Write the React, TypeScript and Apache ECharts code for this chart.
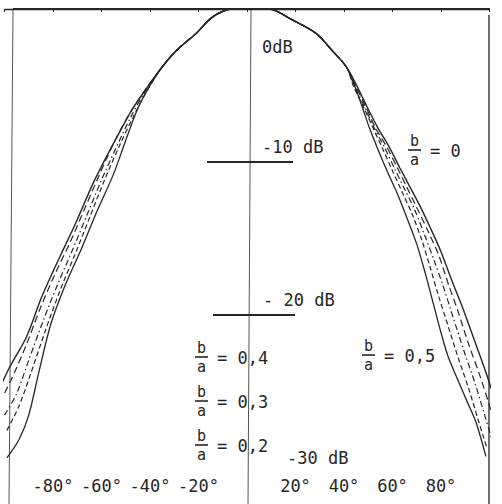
import React, { useEffect, useRef } from "react";
import * as echarts from "echarts";

// Angle (degrees) / relative level (dB) readings
const angleTicks = [-80, -60, -40, -20, 20, 40, 60, 80];
const tickLabels = ["-80°", "-60°", "-40°", "-20°", "20°", "40°", "60°", "80°"];

const mainLobe = [
  [-35, -3.8], [-29, -2.7], [-21, -1.6], [-14, -0.5], [-6, 0], [0, 0], [9, 0],
  [18.5, -0.7], [28.5, -1.6], [35, -2.7], [41, -3.8],
];

const ratio0Left = [
  [-103, -25.2], [-98, -23.5], [-91, -21.5], [-85, -19], [-80, -17.2], [-75, -15.5],
  [-70, -13.8], [-64, -11.6], [-59, -10], [-53, -8.2], [-47, -6.5], [-41, -5.1],
];
const ratio0Right = [
  [45.5, -5.1], [49.5, -6.4], [54, -7.8], [58.5, -9], [63, -10.4], [67, -11.6], [71, -12.8],
  [75.5, -14.3], [80, -15.9], [84.5, -17.8], [89, -19.6], [94, -21.8], [98.5, -23.8],
  [102, -25.5], [105, -27.1],
];

const ratio02Left = [
  [-102, -25.8], [-97, -24.2], [-91, -22], [-85, -19.5], [-79, -17.3], [-73, -15.3],
  [-67, -13.1], [-61, -10.9], [-55, -8.8], [-49, -7], [-42, -5.3],
];
const ratio02Right = [
  [45, -5.1], [49, -6.4], [53, -7.8], [57.5, -9], [62, -10.4], [66, -11.7], [70, -13],
  [74.5, -14.5], [79, -16.1], [83, -18], [87, -19.8], [91.5, -22], [96, -24], [100, -26],
  [103, -27.8],
];

const ratio03Left = [
  [-100, -26.6], [-95, -25.2], [-90, -23], [-84, -20.4], [-78, -18], [-72, -15.8],
  [-66, -13.5], [-60, -11.2], [-54, -9.1], [-48, -7.1], [-42, -5.4],
];
const ratio03Right = [
  [44.5, -5.1], [48.5, -6.4], [52.5, -7.8], [56.5, -9], [61, -10.5], [65, -11.8], [69, -13.1],
  [73, -14.7], [77, -16.4], [81, -18.2], [85, -20.2], [89.5, -22.4], [94, -24.5], [98, -26.6],
  [101, -28.2],
];

const ratio04Left = [
  [-99, -27.6], [-94, -26], [-89, -23.8], [-83, -21], [-77, -18.4], [-71, -16.1],
  [-65, -13.7], [-59, -11.3], [-53, -9.1], [-47, -7.1], [-41, -5.3],
];
const ratio04Right = [
  [44, -5.1], [48, -6.4], [52, -7.8], [55.5, -9], [60, -10.6], [64, -12], [68, -13.4],
  [72, -15.1], [75.5, -16.9], [79, -18.8], [83, -20.8], [87, -22.8], [91.5, -24.9],
  [95.5, -27], [99, -28.8],
];

const ratio05Left = [
  [-99, -29.4], [-94, -28.2], [-90, -26.6], [-86, -23.9], [-81, -20.7], [-75, -18.1],
  [-68, -15.6], [-62, -13.3], [-55, -10.8], [-50, -8.6], [-45, -6.5], [-40, -5.0],
];
const ratio05Right = [
  [44.5, -5.1], [47.5, -6.4], [50.5, -7.8], [54, -9.2], [58, -10.7], [62, -12.1], [66, -13.7],
  [70, -15.4], [73.5, -17.3], [77, -19.4], [80, -21.2], [83, -22.8], [87.5, -24.5],
  [91, -25.8], [94.5, -27.1], [98.5, -29.3],
];

// Short level bars: [dB, from angle, to angle]
const levelBars = [
  [-10, -16.5, 19],
  [-20, -14, 19.8],
];

const INK = "#262626";
const FONT = '"DejaVu Sans Mono", monospace';

function txt(text: string, x: number, y: number, align = "left", size = 17) {
  return {
    type: "text",
    x,
    y,
    silent: true,
    style: {
      text,
      fill: INK,
      fontSize: size,
      lineHeight: size,
      fontFamily: FONT,
      align,
      verticalAlign: "middle",
    },
  };
}

function fraction(x: number, y: number, value: string) {
  return {
    type: "group",
    x,
    y,
    children: [
      txt("b", 6.5, -9, "center", 15),
      { type: "line", shape: { x1: 0, y1: 0, x2: 13, y2: 0 }, style: { stroke: INK, lineWidth: 1.6 } },
      txt("a", 6.5, 10, "center", 15),
      txt("= " + value, 22, 1),
    ],
  };
}

export default function App() {
  const ref = useRef<HTMLDivElement>(null);
  useEffect(() => {
    if (!ref.current) return;
    document.body.style.margin = "0";
    const chart = echarts.init(ref.current, null, { renderer: "svg" });
    const lineSeries = (name: string, data: number[][], type: any, width = 1.2) => ({
      name,
      type: "line",
      data,
      showSymbol: false,
      smooth: 0.3,
      clip: false,
      lineStyle: { color: INK, width, type },
      z: 3,
    });
    chart.setOption({
      animation: false,
      backgroundColor: "#ffffff",
      grid: { left: 4.5, right: 12.5, top: 9, bottom: 37 },
      xAxis: {
        type: "value",
        min: -100,
        max: 100,
        interval: 20,
        splitLine: { show: false },
        axisLine: { show: true, lineStyle: { color: INK, width: 1.4 } },
        axisTick: { show: true, length: 3, lineStyle: { color: INK } },
        axisLabel: {
          color: INK,
          fontSize: 17,
          fontFamily: FONT,
          margin: 10,
          formatter: (v: number) => {
            const i = angleTicks.indexOf(v);
            return i >= 0 ? tickLabels[i] : "";
          },
        },
      },
      yAxis: {
        type: "value",
        min: -30,
        max: 0,
        show: false,
      },
      series: [
        lineSeries("b/a = 0,2", [...ratio02Left, ...mainLobe, ...ratio02Right], [7, 4]),
        lineSeries("b/a = 0,3", [...ratio03Left, ...mainLobe, ...ratio03Right], [6, 3, 1.5, 3]),
        lineSeries("b/a = 0,4", [...ratio04Left, ...mainLobe, ...ratio04Right], [5, 3]),
        lineSeries("b/a = 0,5", [...ratio05Left, ...mainLobe, ...ratio05Right], "solid", 1.3),
        {
          ...lineSeries("b/a = 0", [...ratio0Left, ...mainLobe, ...ratio0Right], "solid", 1.4),
          markLine: {
            silent: true,
            symbol: "none",
            label: { show: false },
            lineStyle: { color: INK, width: 2, type: "solid" },
            data: levelBars.map(([db, a, b]) => [{ coord: [a, db] }, { coord: [b, db] }]),
          },
        },
      ],
      graphic: [
        { type: "line", shape: { x1: 13, y1: 9, x2: 490, y2: 9 }, style: { stroke: INK, lineWidth: 2 } },
        { type: "line", shape: { x1: 13, y1: 10, x2: 9, y2: 504 }, style: { stroke: "#555", lineWidth: 1 } },
        { type: "line", shape: { x1: 489, y1: 15, x2: 489, y2: 504 }, style: { stroke: INK, lineWidth: 1.3 } },
        { type: "line", shape: { x1: 251, y1: 9, x2: 248, y2: 504 }, style: { stroke: "#555", lineWidth: 1 } },
        txt("0dB", 262, 47),
        txt("-10 dB", 262, 147),
        txt("- 20 dB", 263, 300),
        txt("-30 dB", 287, 458),
        fraction(408, 150, "0"),
        fraction(362, 355, "0,5"),
        fraction(195, 357, "0,4"),
        fraction(195, 401, "0,3"),
        fraction(195, 445, "0,2"),
      ],
    });
    return () => chart.dispose();
  }, []);
  return <div ref={ref} style={{ width: 502, height: 504 }} />;
}
